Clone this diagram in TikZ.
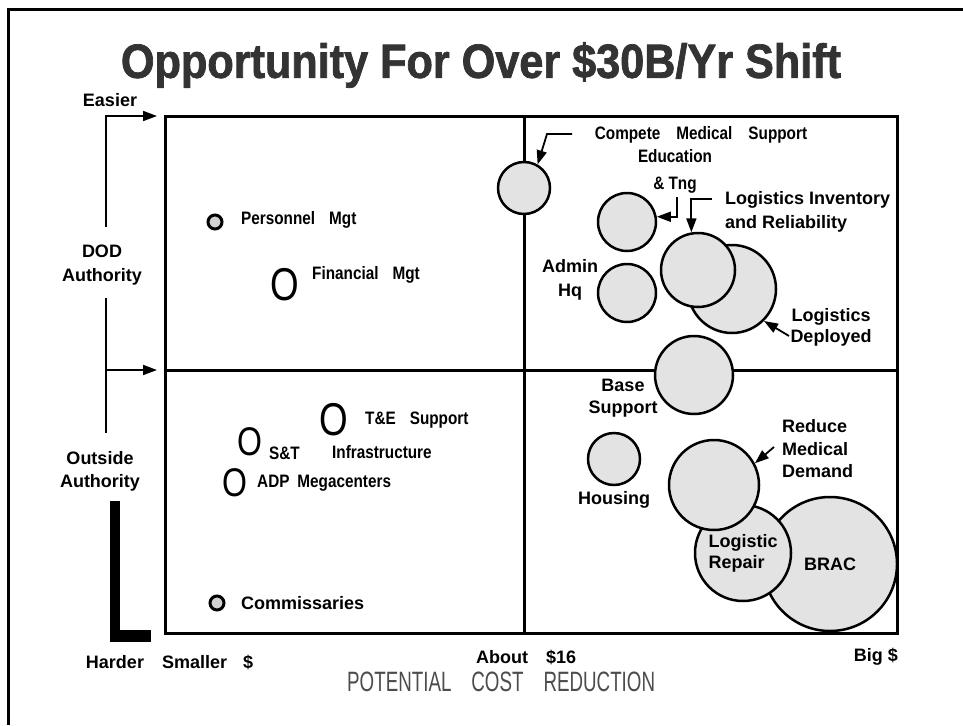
\documentclass[tikz,border=0pt]{standalone}
\usepackage{fontspec}
\setmainfont{Liberation Sans}
\newfontfamily\narrowfont[FakeStretch=0.85]{Liberation Sans}
\newfontfamily\thinfont[FakeStretch=0.67]{Liberation Sans}
\newfontfamily\ofont[FakeStretch=0.8]{Liberation Sans}
\newfontfamily\titlefont[FakeStretch=0.9, FakeBold=1.5]{Liberation Sans}
\usetikzlibrary{arrows.meta}

\begin{document}
\begin{tikzpicture}[x=1pt, y=-1pt]
	\tikzstyle{every node}=[align=center, inner sep=1pt, font=\fontsize{18}{24}\selectfont\bfseries]
	\tikzstyle{nar}=[font=\fontsize{18}{27}\selectfont\narrowfont\bfseries]
	\tikzstyle{bubble}=[circle, draw, line width=2.5pt, fill=black!11, inner sep=0pt]
	\tikzstyle{dot}=[circle, draw, line width=3pt, fill=black!18, inner sep=0pt, minimum size=14pt]
	\tikzstyle{ring}=[inner sep=0pt, font=\fontsize{46}{46}\selectfont\ofont]
	\tikzstyle{tip}=[-{Triangle[length=14pt, width=10pt]}, line width=1.8pt]

	\useasboundingbox (0,0) rectangle (963,725);
	\draw[line width=3pt] (8,725) -- (8,10) -- (963,10);

	\node[font=\fontsize{48}{48}\selectfont\titlefont\bfseries, text=black!80] (title) at (481,65) {Opportunity For Over \$30B/Yr Shift};

	% quadrant lines
	\draw[line width=3pt] (524,116) -- (524,633);
	\draw[line width=3pt] (165,370) -- (897,370);

	% left axis
	\node (easier) at (110,100) {Easier};
	\node (dod) at (102,265) {DOD\\Authority};
	\node[font=\fontsize{18}{23}\selectfont\bfseries] (outside) at (100,471) {Outside\\Authority};
	\coordinate (ax1) at (106,227);
	\coordinate (ax2) at (106,298);
	\coordinate (ax3) at (106,433);
	\coordinate (top) at (157,116);
	\coordinate (mid) at (157,370);
	\draw[tip] (ax1) |- (top);
	\draw[line width=1.8pt] (ax2) -- (ax3);
	\draw[tip] (ax2 |- mid) -- (mid);
	\fill (110,501) rectangle (120,642);
	\fill (110,630) rectangle (151,642);

	% small items
	\node[dot] (pers) at (215,222) {};
	\node[nar, anchor=west] (persl) at (240,220) {Personnel\hspace{14pt}Mgt};
	\node[ring] (fin) at (285,285) {O};
	\node[nar, anchor=west] (finl) at (311,275) {Financial\hspace{14pt}Mgt};
	\node[ring] (te) at (334,420) {O};
	\node[nar, anchor=west] (tel) at (364,420) {T\&E\hspace{14pt}Support};
	\node[nar, anchor=west] (infl) at (331,452) {Infrastructure};
	\node[ring, font=\fontsize{40}{40}\selectfont\ofont] (st) at (250,442) {O};
	\node[nar, anchor=west] (stl) at (268,453) {S\&T};
	\node[ring, font=\fontsize{40}{40}\selectfont\ofont] (adp) at (235,483) {O};
	\node[nar, anchor=west] (adpl) at (256,483) {ADP\hspace{8pt}Megacenters};
	\node[dot] (comm) at (217,603) {};
	\node[anchor=west] (comml) at (240,603) {Commissaries};

	% bubbles
	\node[bubble, minimum size=52pt] (cms) at (524,188) {};
	\node[bubble, minimum size=58pt] (edu) at (627,222) {};
	\node[bubble, minimum size=58pt] (adm) at (627,293) {};
	\node[bubble, minimum size=88pt] (dep) at (732,289) {};
	\node[bubble, minimum size=74pt] (inv) at (698,270) {};
	\node[bubble, minimum size=78pt] (base) at (694,375) {};
	\node[bubble, minimum size=52pt] (hous) at (614,459) {};
	\node[bubble, minimum size=134pt] (brac) at (830,564) {BRAC};
	\node[bubble, minimum size=96pt, align=left, font=\fontsize{18}{21}\selectfont\bfseries] (rep) at (743,553) {Logistic\\Repair};
	\node[bubble, minimum size=90pt] (med) at (714,485) {};

	% bubble labels
	\node[nar] (cmsl) at (701,135) {Compete\hspace{16pt}Medical\hspace{16pt}Support};
	\node[nar] (edul) at (675,171) {Education\\\& Tng};
	\node[anchor=west, align=left] (invl) at (724,212) {Logistics Inventory\\and Reliability};
	\node[font=\fontsize{18}{21}\selectfont\bfseries] (depl) at (831,327) {Logistics\\Deployed};
	\node (adml) at (570,280) {Admin\\Hq};
	\node[font=\fontsize{18}{22}\selectfont\bfseries] (basel) at (623,398) {Base\\Support};
	\node (housl) at (614,500) {Housing};
	\node[anchor=west, align=left, font=\fontsize{18}{22.5}\selectfont\bfseries] (medl) at (781,449) {Reduce\\Medical\\Demand};

	\coordinate (c1) at (572,134);
	\coordinate (e1) at (677,197);
	\coordinate (i1) at (712,199);
	\coordinate (d1) at (789,336);
	\coordinate (m1) at (774,447);
	\draw[tip] (c1) -- ++(-25,0) -- (cms.60);
	\draw[tip] (e1) |- (edu.10);
	\draw[tip] (i1) -| (inv.100);
	\draw[tip] (d1) -- (dep.-45);
	\draw[tip] (m1) -- (med.28);

	\draw[line width=3pt] (165,116) rectangle (897,633);

	% bottom axis
	\node (hard) at (115,662) {Harder};
	\node[anchor=west] (small) at (161,662) {Smaller\hspace{16pt}\$};
	\node[anchor=west] (about) at (475,657) {About\hspace{18pt}\$16};
	\node[anchor=east] (big) at (899,657) {Big \$};
	\node[anchor=west, font=\fontsize{28}{28}\selectfont\thinfont\mdseries, text=black!70] (pcr) at (346,682) {POTENTIAL\hspace{20pt}COST\hspace{20pt}REDUCTION};
\end{tikzpicture}
\end{document}
